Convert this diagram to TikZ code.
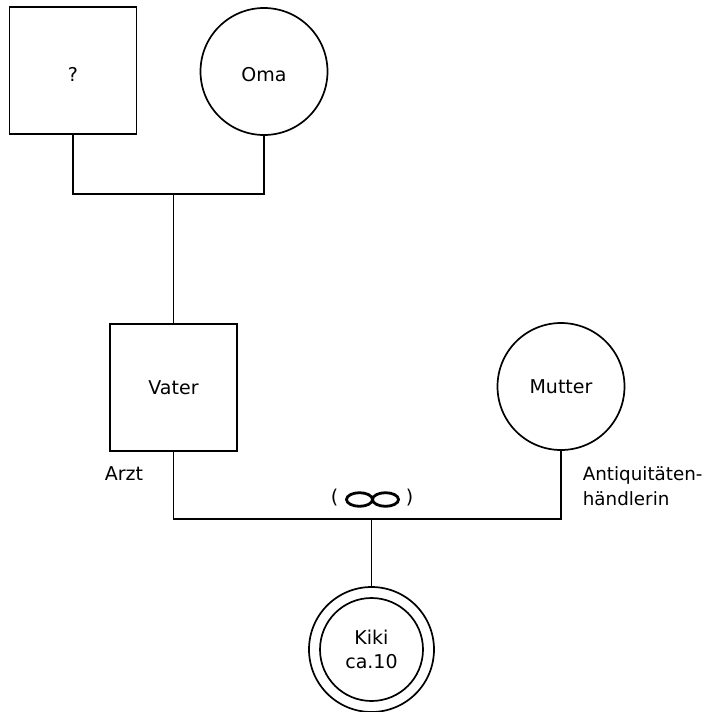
\documentclass[tikz,border=0pt]{standalone}
\usepackage{fontspec}
\setmainfont{DejaVu Sans}
\begin{document}
\begin{tikzpicture}[x=1pt,y=-1pt,line width=1.7pt,
  every node/.style={font=\fontsize{19}{24.5}\selectfont},
  male/.style={draw,rectangle,minimum size=127pt,inner sep=0pt},
  female/.style={draw,circle,minimum size=127pt,inner sep=0pt},
  plain/.style={inner sep=0pt}]
\useasboundingbox (0,0) rectangle (708,712);
\fill[white] (0,0) rectangle (708,712);
% persons
\node[male,label={[plain,yshift=-4pt]center:?}] (q) at (73,70.5) {};
\node[female,label={[plain,yshift=-3.5pt]center:Oma}] (oma) at (264,71.5) {};
\node[male] (vater) at (173.5,387.5) {Vater};
\node[female] (mutter) at (561,386.5) {Mutter};
\node[draw,circle,minimum size=125pt,inner sep=0pt] (kiki) at (371.5,649.5) {};
\node[draw,circle,minimum size=103pt,inner sep=0pt,align=center] (kikiin) at (371.5,649.5) {Kiki\\ca.10};
% connectors
\coordinate (top) at (173.5,194);
\coordinate (mid) at (371.5,519);
\draw (q.south) |- (top) -| (oma.south);
\draw (top) -- (vater.north);
\draw (vater.south) |- (mid) -| (mutter.south);
\draw (mid) -- (kiki.north);
% labels
\node[plain,anchor=base west] (arzt) at (104,480) {Arzt};
\node[plain,anchor=north west,align=left,font=\fontsize{18.3}{24.5}\selectfont] (beruf) at (582,466) {Antiquitäten-\\händlerin};
% partnership symbol
\node[plain] (lp) at (334.5,498) {(};
\node[plain] (rp) at (409.5,498) {)};
\draw[line width=2.8pt] (359.5,499.5) ellipse [x radius=13pt,y radius=6.8pt];
\draw[line width=2.8pt] (385.5,499.5) ellipse [x radius=13pt,y radius=6.8pt];
\end{tikzpicture}
\end{document}
